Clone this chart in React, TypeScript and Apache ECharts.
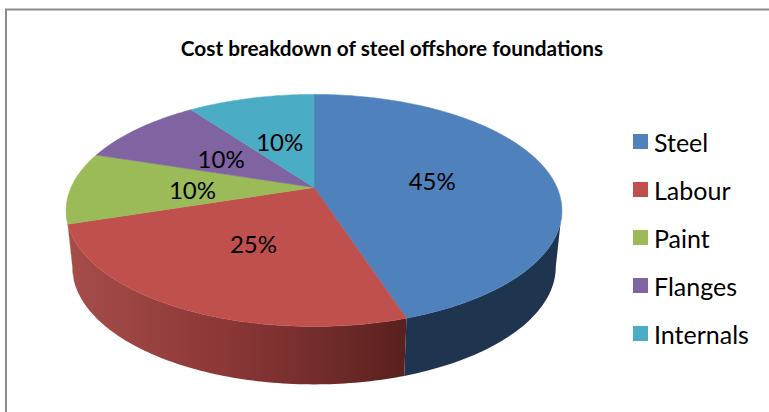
import React, { useEffect, useRef } from "react";
import * as echarts from "echarts";

const categories = ["Steel", "Labour", "Paint", "Flanges", "Internals"];
const values = [45, 25, 10, 10, 10];
const labels = ["45%", "25%", "10%", "10%", "10%"];
const topColors = ["#4F81BD", "#C0504D", "#9BBB59", "#8064A2", "#4BACC6"];
const titleText = "Cost breakdown of steel offshore foundations";

// Perspective projection of the pie's disc
const CX = 314;
const K = 0.198;
const TOP = { cy: 187.5, a: 243, b: 111.5 };
const BOTTOM = { cy: 243.5, a: 237, b: 113 };
const VISIBLE_FROM = (101.4 * Math.PI) / 180;
const VISIBLE_TO = (258.6 * Math.PI) / 180;

const total = values.reduce((s, v) => s + v, 0);

function project(theta: number, r: number, disc: { cy: number; a: number; b: number }) {
  const u = r * Math.sin(theta);
  const v = -r * Math.cos(theta);
  const w = 1 - K * v;
  return [CX + (disc.a * u) / w, disc.cy + (disc.b * v) / w];
}

function arc(from: number, to: number, disc: { cy: number; a: number; b: number }) {
  const n = Math.max(2, Math.ceil(((to - from) * 180) / Math.PI));
  const pts: number[][] = [];
  for (let i = 0; i <= n; i++) pts.push(project(from + ((to - from) * i) / n, 1, disc));
  return pts;
}

function wallFill(index: number) {
  if (index === 1) {
    return {
      type: "linear", x: 0, y: 0, x2: 1, y2: 0,
      colorStops: [
        { offset: 0, color: "#A64D4A" },
        { offset: 0.45, color: "#8C3837" },
        { offset: 0.75, color: "#722C2A" },
        { offset: 1, color: "#58201E" },
      ],
    };
  }
  if (index === 0) return "#1F344E";
  if (index === 2) return "#6F8A3C";
  return "#444";
}

function sliceRenderer(index: number) {
  return (_params: any, api: any) => {
    const before = values.slice(0, index).reduce((s, v) => s + v, 0);
    const start = (before / total) * Math.PI * 2;
    const end = start + (api.value(0) / total) * Math.PI * 2;
    const children: any[] = [];
    const wFrom = Math.max(start, VISIBLE_FROM);
    const wTo = Math.min(end, VISIBLE_TO);
    if (wTo > wFrom) {
      const points = [...arc(wFrom, wTo, TOP), ...arc(wFrom, wTo, BOTTOM).reverse()];
      children.push({
        type: "polygon",
        shape: { points },
        style: { fill: wallFill(index), stroke: null },
        z2: 1,
      });
    }
    const mid = (start + end) / 2;
    const centre = project(0, 0, TOP);
    children.push({
      type: "polygon",
      shape: { points: [centre, ...arc(start, end, TOP)] },
      style: { fill: topColors[index], stroke: topColors[index], lineWidth: 0.5 },
      z2: 2,
    });
    const at = project(mid, 0.5, TOP);
    children.push({
      type: "text",
      z2: 50,
      style: {
        text: labels[index],
        x: at[0],
        y: at[1] + 2,
        align: "center",
        verticalAlign: "middle",
        fill: "#000",
        font: '24px Lato',
      },
    });
    return { type: "group", children };
  };
}

export default function App() {
  const ref = useRef<HTMLDivElement>(null);
  useEffect(() => {
    document.body.style.margin = "0";
    const chart = echarts.init(ref.current!, null, { renderer: "svg" });
    chart.setOption({
      animation: false,
      backgroundColor: "#fff",
      title: {
        text: titleText,
        left: 387,
        textAlign: "center",
        top: 32,
        textStyle: { fontFamily: "Lato", fontWeight: "bold", fontSize: 20.8, color: "#000" },
      },
      legend: {
        orient: "vertical",
        left: 628,
        top: 123,
        itemWidth: 15,
        itemHeight: 15,
        itemGap: 21,
        icon: "rect",
        data: categories,
        selectedMode: false,
        textStyle: { fontFamily: "Lato", fontSize: 25, color: "#000", padding: [0, 0, 0, 1], lineHeight: 27 },
      },
      graphic: [
        {
          type: "polyline",
          shape: { points: [[6, 412], [6, 9.5], [769, 9.5]] },
          style: { stroke: "#8C8C8C", lineWidth: 2, fill: "none" },
          silent: true,
        },
      ],
      series: categories.map((name, i) => ({
        type: "custom",
        coordinateSystem: "none",
        name,
        data: [[values[i]]],
        itemStyle: { color: topColors[i] },
        renderItem: sliceRenderer(i),
        silent: true,
      })),
    });
    return () => chart.dispose();
  }, []);
  return <div ref={ref} style={{ width: 769, height: 412 }} />;
}
